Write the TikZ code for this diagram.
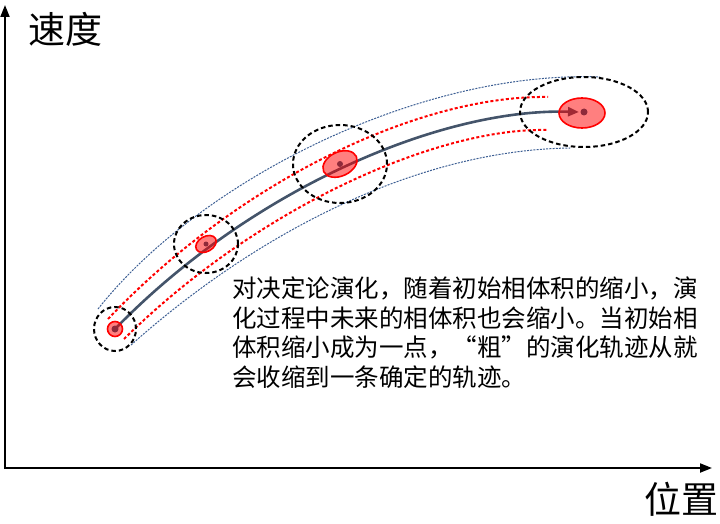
\documentclass[tikz,border=0pt]{standalone}
\usepackage{fontspec}
\newfontfamily\cjk{Noto Sans CJK SC}
\usetikzlibrary{arrows.meta}
\definecolor{mainline}{HTML}{44546A}
\definecolor{envblue}{HTML}{3D5F94}
\definecolor{dotred}{HTML}{8E2A3A}
\tikzset{
  axisline/.style={line width=2pt,-{Triangle[length=12pt,width=9pt]}},
  mainpath/.style={draw=mainline,line width=2.6pt},
  reddots/.style={draw=red,line width=2pt,dash pattern=on 3pt off 2.2pt},
  envelope/.style={draw=envblue,line width=1pt,dash pattern=on 2pt off 1.2pt},
  region/.style={draw=black,line width=2pt,dash pattern=on 4.5pt off 3pt},
  cell/.style={draw=red,line width=1.6pt,fill=red,fill opacity=0.5},
  centerdot/.style={fill=dotred},
  lbl/.style={font=\cjk\fontsize{37}{40}\selectfont,inner sep=0pt},
}
\begin{document}
\begin{tikzpicture}[x=1pt,y=-1pt]
\useasboundingbox (0,0) rectangle (720,524);
% axes
\coordinate (o) at (5,468);
\coordinate (ytop) at (5,5);
\coordinate (xend) at (712,468);
\draw[axisline] (5,469) -- (ytop);
\draw[axisline] (4,468) -- (xend);
\node[lbl,anchor=west] (vlabel) at (28,29) {速度};
\node[lbl,anchor=west] (plabel) at (644,499) {位置};
% centers
\coordinate (c1) at (115,329);
\coordinate (c2) at (206,244);
\coordinate (c3) at (340,164);
\coordinate (c4) at (584,112);
\coordinate (tip) at (579,112);
% envelope
\draw[envelope] (98,309) .. controls (200,180) and (420,70) .. (600,77);
\draw[envelope] (131,345) .. controls (260,230) and (420,150) .. (570,148);
% red dotted offsets
\draw[reddots] (108,319) .. controls (240,180) and (420,95) .. (548,97);
\draw[reddots] (124,339) .. controls (260,205) and (440,127) .. (548,130);
% main trajectory
\draw[mainpath,-{Triangle[length=11pt,width=9pt]}] (c1) .. controls (250,190) and (440,108) .. (tip);
% dashed regions
\draw[region] (c1) ellipse [x radius=21pt,y radius=22pt];
\draw[region] (c2) ellipse [x radius=32pt,y radius=29pt];
\draw[region] (c3) ellipse [x radius=47pt,y radius=39pt];
\draw[region] (c4) ellipse [x radius=64pt,y radius=35pt];
% red cells
\draw[cell] (c1) circle [radius=7.5pt];
\draw[cell,rotate around={30:(c2)}] (c2) ellipse [x radius=11pt,y radius=7.5pt];
\draw[cell,rotate around={25:(c3)}] (c3) ellipse [x radius=18pt,y radius=12pt];
\draw[cell] (582,113) ellipse [x radius=23pt,y radius=15pt];
% center dots
\fill[centerdot] (c1) circle [radius=3.5pt];
\fill[centerdot] (c2) circle [radius=2.5pt];
\fill[centerdot] (c3) circle [radius=3pt];
\fill[centerdot] (c4) circle [radius=3.5pt];
% text
\node[anchor=north west,align=left,inner sep=0pt,font=\cjk\fontsize{24.5}{29.5}\selectfont] (note) at (232,277)
{对决定论演化，随着初始相体积的缩小，演\\
化过程中未来的相体积也会缩小。当初始相\\
体积缩小成为一点，“粗”的演化轨迹从就\\
会收缩到一条确定的轨迹。};
\end{tikzpicture}
\end{document}
